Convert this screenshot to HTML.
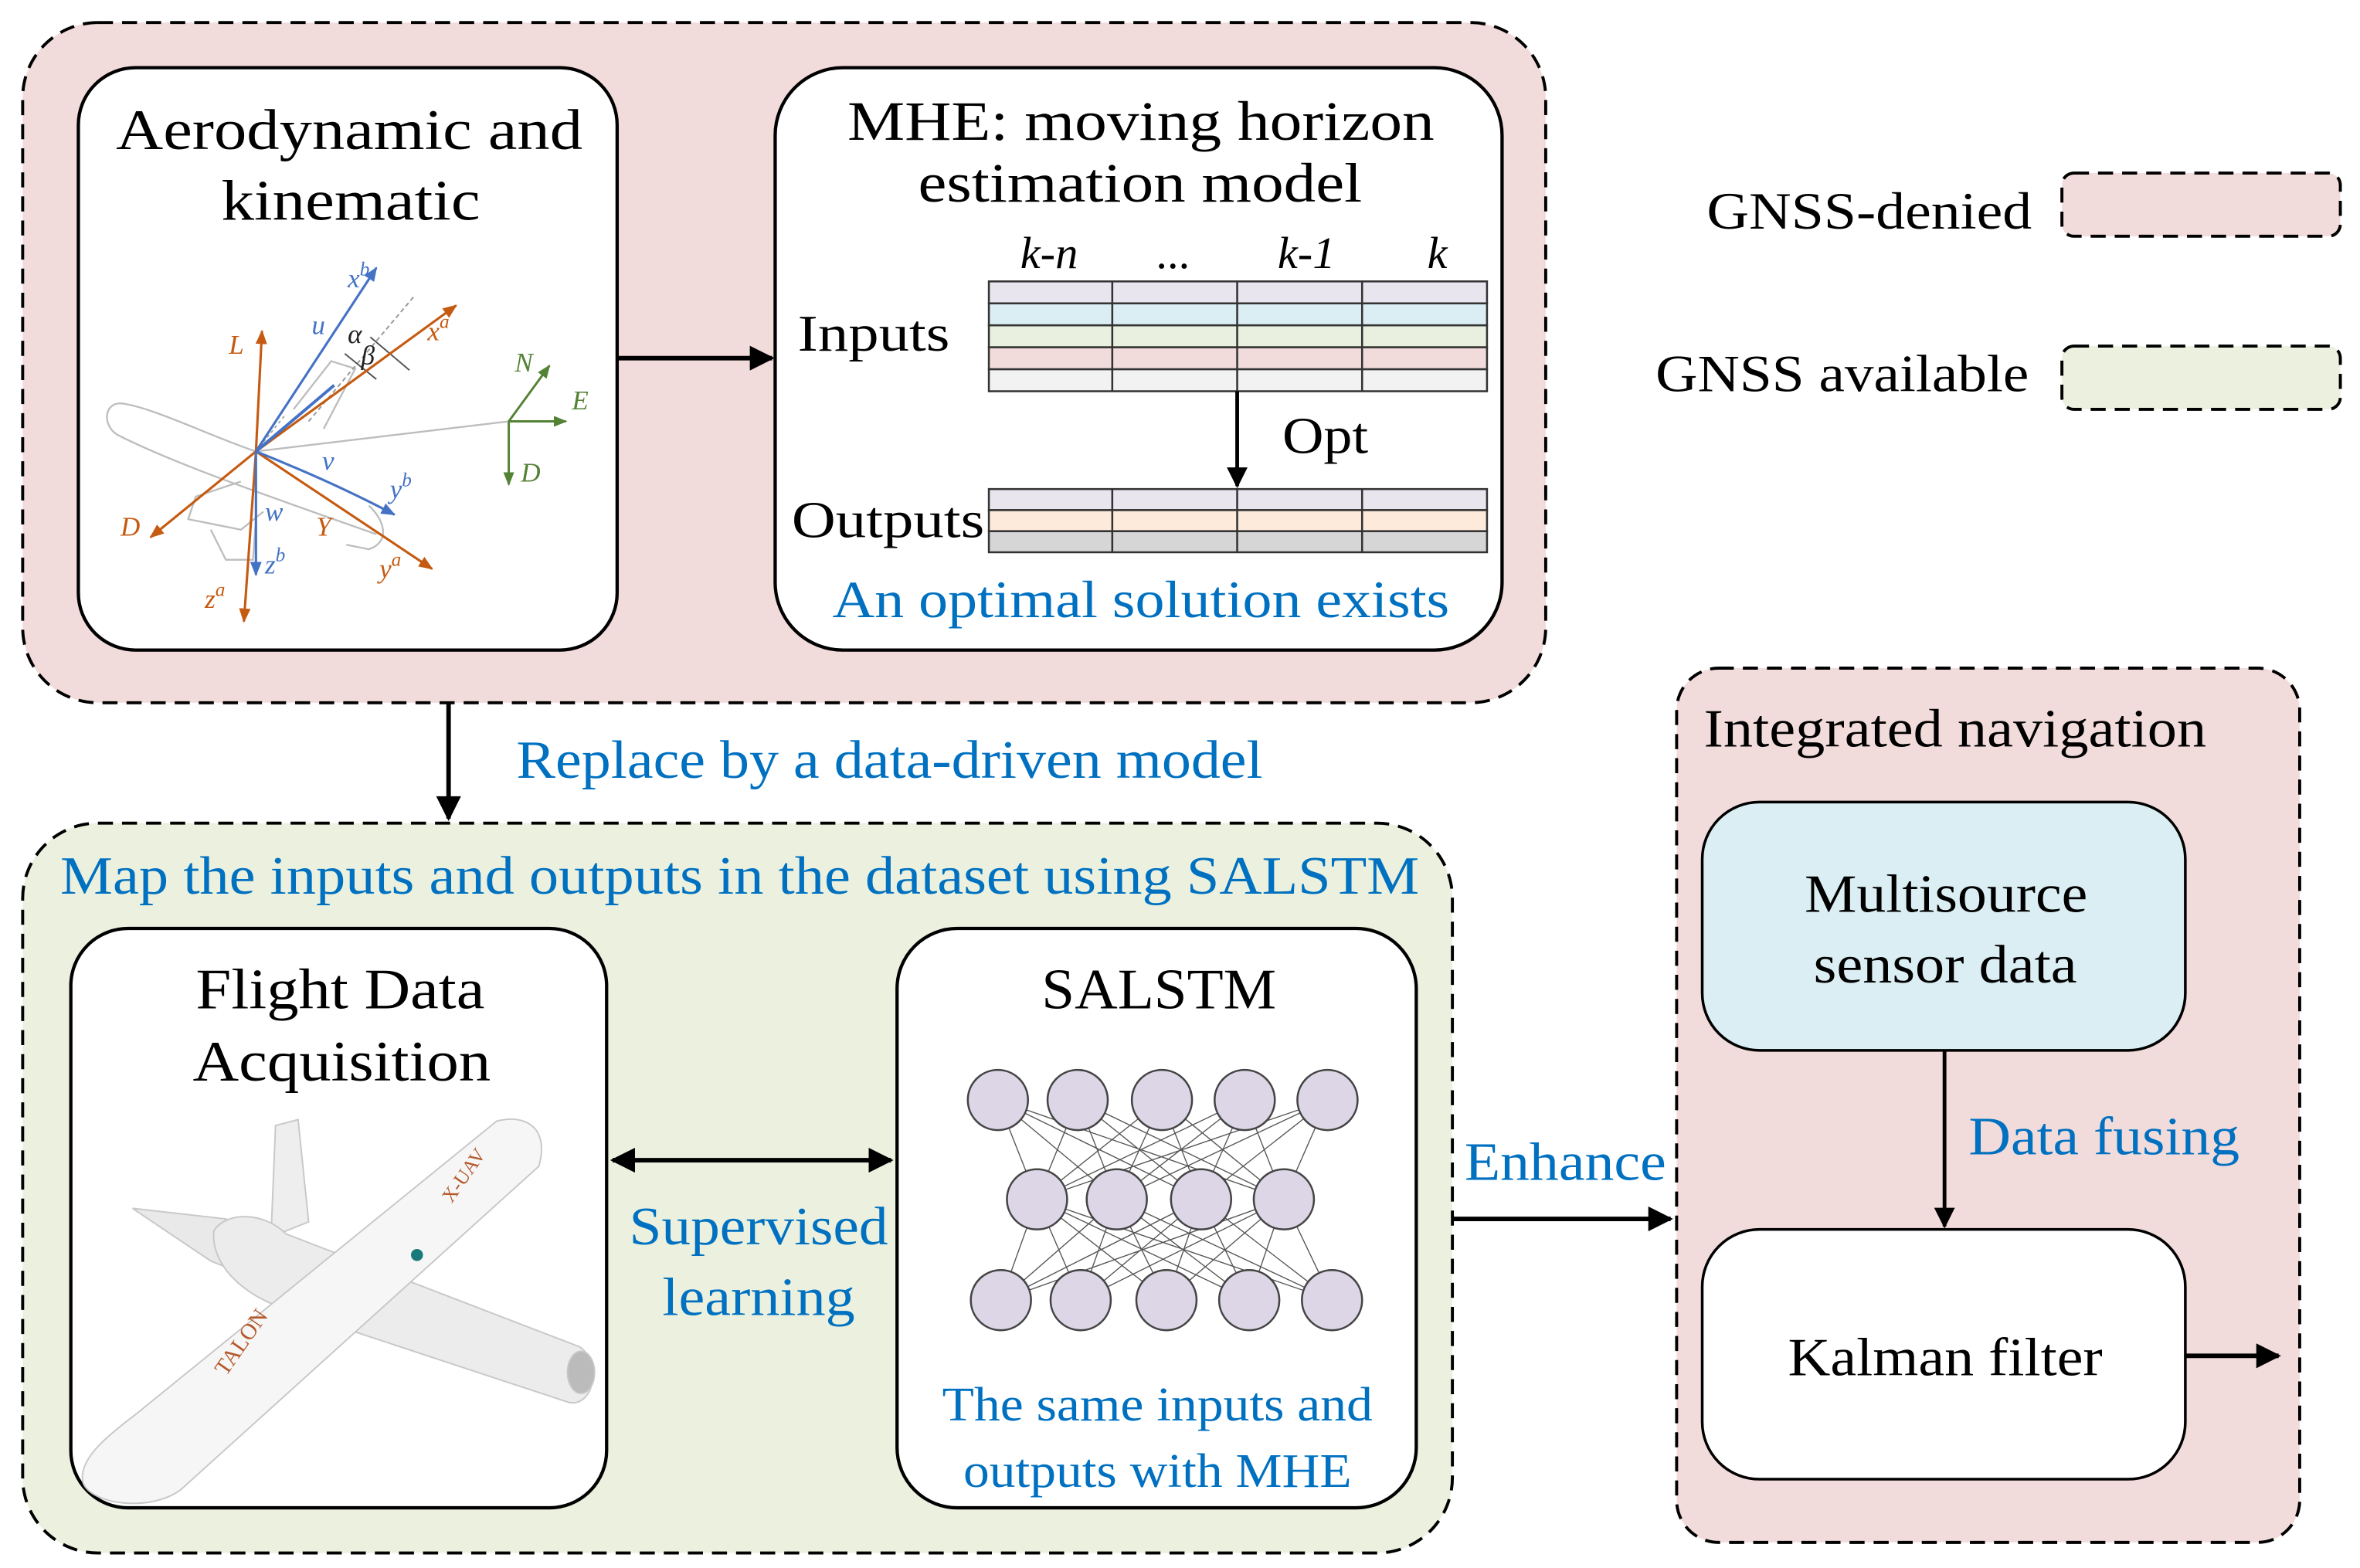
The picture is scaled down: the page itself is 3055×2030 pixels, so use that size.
<!DOCTYPE html>
<html><head><meta charset="utf-8"><style>
html,body{margin:0;padding:0;background:#fff}
svg{display:block}
text{font-family:"Liberation Serif",serif}
</style></head><body>
<svg width="3055" height="2030" viewBox="0 0 1568 1042" xmlns="http://www.w3.org/2000/svg">
<defs>
<marker id="ah" viewBox="0 0 10 10" refX="9" refY="5" markerWidth="6" markerHeight="5.5" orient="auto-start-reverse" markerUnits="strokeWidth"><path d="M0,0 L10,5 L0,10 z" fill="#000"/></marker>
<marker id="ao" viewBox="0 0 10 10" refX="9" refY="5" markerWidth="6" markerHeight="6" orient="auto"><path d="M0,1 L10,5 L0,9 z" fill="#c55a11"/></marker>
<marker id="ab" viewBox="0 0 10 10" refX="9" refY="5" markerWidth="6" markerHeight="6" orient="auto"><path d="M0,1 L10,5 L0,9 z" fill="#4472c4"/></marker>
<marker id="ag" viewBox="0 0 10 10" refX="9" refY="5" markerWidth="6" markerHeight="6" orient="auto"><path d="M0,1 L10,5 L0,9 z" fill="#548235"/></marker>
</defs>

<rect x="15" y="15" width="1012" height="452" rx="50" fill="#f2dcdb" stroke="#000" stroke-width="2" stroke-dasharray="10,6"/>
<rect x="52" y="45" width="358" height="387" rx="38" fill="#fff" stroke="#000" stroke-width="2.2"/>
<rect x="515" y="45" width="483" height="387" rx="45" fill="#fff" stroke="#000" stroke-width="2.2"/>
<text x="77" y="99" font-size="38" textLength="310" lengthAdjust="spacingAndGlyphs">Aerodynamic and</text>
<text x="147" y="146" font-size="38" textLength="172" lengthAdjust="spacingAndGlyphs">kinematic</text>
<text x="563" y="93" font-size="37" textLength="390" lengthAdjust="spacingAndGlyphs">MHE: moving horizon</text>
<text x="610" y="134" font-size="37" textLength="295" lengthAdjust="spacingAndGlyphs">estimation model</text>

<g fill="none" stroke="#bdbdbd" stroke-width="1.2">
<path d="M170,300 C140,290 100,270 80,268 C68,268 68,285 80,290 C110,305 150,320 250,355"/>
<path d="M170,300 L338,280"/>
<path d="M195,272 L220,240 L236,245 L215,285"/>
<path d="M160,320 L130,330 L125,345 L160,352 L175,340 M140,352 L150,372 L168,372 L170,345"/>
<path d="M245,336 C255,345 260,360 245,365 L230,362"/>
</g>
<line x1="170" y1="300" x2="190" y2="275" stroke="#aaa" stroke-dasharray="2,2"/>
<line x1="205" y1="280" x2="275" y2="197" stroke="#999" stroke-dasharray="3,2"/>
<path d="M229,235 L250,252 M246,224 L272,246" stroke="#555" stroke-width="1" fill="none"/>
<g stroke="#c55a11" stroke-width="1.6" fill="none">
<line x1="170" y1="300" x2="174" y2="220" marker-end="url(#ao)"/>
<line x1="170" y1="300" x2="303" y2="203" marker-end="url(#ao)"/>
<line x1="170" y1="300" x2="100" y2="357" marker-end="url(#ao)"/>
<line x1="170" y1="300" x2="287" y2="378" marker-end="url(#ao)"/>
<line x1="170" y1="300" x2="162" y2="413" marker-end="url(#ao)"/>
</g>
<g stroke="#4472c4" stroke-width="1.6" fill="none">
<line x1="170" y1="300" x2="250" y2="178" marker-end="url(#ab)"/>
<line x1="170" y1="300" x2="170" y2="382" marker-end="url(#ab)"/>
<path d="M170,300 C200,312 230,325 262,342" marker-end="url(#ab)"/>
<line x1="170" y1="300" x2="222" y2="256" stroke-width="2"/>
</g>
<g stroke="#548235" stroke-width="1.5" fill="none">
<line x1="338" y1="280" x2="365" y2="243" marker-end="url(#ag)"/>
<line x1="338" y1="280" x2="376" y2="280" marker-end="url(#ag)"/>
<line x1="338" y1="280" x2="338" y2="322" marker-end="url(#ag)"/>
</g>
<g font-style="italic" font-size="18">
<text x="152" y="235" fill="#c55a11">L</text>
<text x="284" y="226" fill="#c55a11">x<tspan font-size="13" dy="-8">a</tspan></text>
<text x="80" y="356" fill="#c55a11">D</text>
<text x="210" y="356" fill="#c55a11">Y</text>
<text x="252" y="384" fill="#c55a11">y<tspan font-size="13" dy="-8">a</tspan></text>
<text x="136" y="404" fill="#c55a11">z<tspan font-size="13" dy="-8">a</tspan></text>
<text x="231" y="191" fill="#4472c4">x<tspan font-size="13" dy="-8">b</tspan></text>
<text x="207" y="222" fill="#4472c4">u</text>
<text x="214" y="312" fill="#4472c4">v</text>
<text x="176" y="346" fill="#4472c4">w</text>
<text x="259" y="331" fill="#4472c4">y<tspan font-size="13" dy="-8">b</tspan></text>
<text x="176" y="381" fill="#4472c4">z<tspan font-size="13" dy="-8">b</tspan></text>
<text x="231" y="228" fill="#222">α</text>
<text x="240" y="242" fill="#222">β</text>
<text x="342" y="247" fill="#548235">N</text>
<text x="380" y="272" fill="#548235">E</text>
<text x="346" y="320" fill="#548235">D</text>
</g>

<line x1="410" y1="238" x2="513" y2="238" stroke="#000" stroke-width="3" marker-end="url(#ah)"/>

<g stroke="#333" stroke-width="1.3">
<rect x="657" y="187" width="331" height="14.6" fill="#e8e5ef"/>
<rect x="657" y="201.6" width="331" height="14.6" fill="#dbeef3"/>
<rect x="657" y="216.2" width="331" height="14.6" fill="#e9f0df"/>
<rect x="657" y="230.8" width="331" height="14.6" fill="#f2dcdb"/>
<rect x="657" y="245.4" width="331" height="14.6" fill="#f2f2f2"/>
<rect x="657" y="325" width="331" height="14" fill="#e8e5ef"/>
<rect x="657" y="339" width="331" height="14" fill="#fdeadb"/>
<rect x="657" y="353" width="331" height="14" fill="#d6d6d6"/>
<path d="M739,187V260M822,187V260M905,187V260M739,325V367M822,325V367M905,325V367" fill="none"/>
</g>
<g font-size="30" font-style="italic">
<text x="697" y="178" text-anchor="middle">k-n</text>
<text x="780" y="178" text-anchor="middle">...</text>
<text x="868" y="178" text-anchor="middle">k-1</text>
<text x="955" y="178" text-anchor="middle">k</text>
</g>
<text x="530" y="233" font-size="34" textLength="101" lengthAdjust="spacingAndGlyphs">Inputs</text>
<text x="526" y="357" font-size="34" textLength="128" lengthAdjust="spacingAndGlyphs">Outputs</text>
<line x1="822" y1="260" x2="822" y2="323" stroke="#000" stroke-width="2.5" marker-end="url(#ah)"/>
<text x="852" y="301" font-size="34" textLength="57" lengthAdjust="spacingAndGlyphs">Opt</text>
<text x="553" y="410" font-size="35" fill="#0070c0" textLength="410" lengthAdjust="spacingAndGlyphs">An optimal solution exists</text>

<text x="1134" y="152" font-size="35" textLength="216" lengthAdjust="spacingAndGlyphs">GNSS-denied</text>
<rect x="1370" y="115" width="185" height="42" rx="8" fill="#f2dcdb" stroke="#000" stroke-width="2" stroke-dasharray="10,6"/>
<text x="1100" y="260" font-size="35" textLength="248" lengthAdjust="spacingAndGlyphs">GNSS available</text>
<rect x="1370" y="230" width="185" height="42" rx="8" fill="#ebf1de" stroke="#000" stroke-width="2" stroke-dasharray="10,6"/>

<line x1="298" y1="467" x2="298" y2="544" stroke="#000" stroke-width="3" marker-end="url(#ah)"/>
<text x="343" y="517" font-size="36" fill="#0070c0" textLength="496" lengthAdjust="spacingAndGlyphs">Replace by a data-driven model</text>

<rect x="15" y="547" width="950" height="485" rx="50" fill="#ebf1de" stroke="#000" stroke-width="2" stroke-dasharray="10,6"/>
<text x="40" y="594" font-size="36" fill="#0070c0" textLength="903" lengthAdjust="spacingAndGlyphs">Map the inputs and outputs in the dataset using SALSTM</text>
<rect x="47" y="617" width="356" height="385" rx="38" fill="#fff" stroke="#000" stroke-width="2.2"/>
<rect x="596" y="617" width="345" height="385" rx="40" fill="#fff" stroke="#000" stroke-width="2.2"/>
<text x="130" y="670" font-size="38" textLength="192" lengthAdjust="spacingAndGlyphs">Flight Data</text>
<text x="128" y="718" font-size="38" textLength="198" lengthAdjust="spacingAndGlyphs">Acquisition</text>
<text x="692" y="670" font-size="38" textLength="156" lengthAdjust="spacingAndGlyphs">SALSTM</text>

<g stroke="#c8c8c8" stroke-width="1">
<path d="M183,748 L198,744 L205,812 L180,822 Z" fill="#eeeeee"/>
<path d="M88,803 L150,810 L195,830 L185,856 L140,838 Z" fill="#e9e9e9"/>
<path d="M142,818 C150,805 175,805 190,820 L385,895 C400,905 395,935 378,932 L190,870 C160,860 140,840 142,818 Z" fill="#ececec"/>
<path d="M330,745 C350,740 365,750 358,775 L120,990 C100,1005 60,1000 55,985 C52,970 70,955 90,940 Z" fill="#f6f6f6"/>
<ellipse cx="386" cy="912" rx="9" ry="14" fill="#bbb"/>
<ellipse cx="277" cy="834" rx="4" ry="4" fill="#1a7a7a" stroke="none"/>
</g>
<text x="300" y="800" font-size="13" fill="#b5582a" transform="rotate(-55 300 800)">X-UAV</text>
<text x="150" y="915" font-size="15" fill="#b5582a" transform="rotate(-55 150 915)">TALON</text>

<g stroke="#555" stroke-width="0.7">
<path d="M663,731L689,797M663,731L742,797M663,731L798,797M663,731L853,797M716,731L689,797M716,731L742,797M716,731L798,797M716,731L853,797M772,731L689,797M772,731L742,797M772,731L798,797M772,731L853,797M827,731L689,797M827,731L742,797M827,731L798,797M827,731L853,797M882,731L689,797M882,731L742,797M882,731L798,797M882,731L853,797"/>
<path d="M689,797L665,864M689,797L718,864M689,797L775,864M689,797L830,864M689,797L885,864M742,797L665,864M742,797L718,864M742,797L775,864M742,797L830,864M742,797L885,864M798,797L665,864M798,797L718,864M798,797L775,864M798,797L830,864M798,797L885,864M853,797L665,864M853,797L718,864M853,797L775,864M853,797L830,864M853,797L885,864"/>
</g>
<g fill="#dcd6e6" stroke="#444" stroke-width="1.3">
<circle cx="663" cy="731" r="20"/><circle cx="716" cy="731" r="20"/><circle cx="772" cy="731" r="20"/><circle cx="827" cy="731" r="20"/><circle cx="882" cy="731" r="20"/>
<circle cx="689" cy="797" r="20"/><circle cx="742" cy="797" r="20"/><circle cx="798" cy="797" r="20"/><circle cx="853" cy="797" r="20"/>
<circle cx="665" cy="864" r="20"/><circle cx="718" cy="864" r="20"/><circle cx="775" cy="864" r="20"/><circle cx="830" cy="864" r="20"/><circle cx="885" cy="864" r="20"/>
</g>
<text x="626" y="944" font-size="32" fill="#0070c0" textLength="286" lengthAdjust="spacingAndGlyphs">The same inputs and</text>
<text x="640" y="988" font-size="32" fill="#0070c0" textLength="258" lengthAdjust="spacingAndGlyphs">outputs with MHE</text>

<line x1="407" y1="771" x2="592" y2="771" stroke="#000" stroke-width="3" marker-start="url(#ah)" marker-end="url(#ah)"/>
<text x="418" y="827" font-size="36" fill="#0070c0" textLength="172" lengthAdjust="spacingAndGlyphs">Supervised</text>
<text x="440" y="874" font-size="36" fill="#0070c0" textLength="128" lengthAdjust="spacingAndGlyphs">learning</text>

<line x1="965" y1="810" x2="1110" y2="810" stroke="#000" stroke-width="3" marker-end="url(#ah)"/>
<text x="973" y="784" font-size="36" fill="#0070c0" textLength="134" lengthAdjust="spacingAndGlyphs">Enhance</text>

<rect x="1114" y="444" width="414" height="581" rx="28" fill="#f2dcdb" stroke="#000" stroke-width="2" stroke-dasharray="10,6"/>
<text x="1132" y="496" font-size="36" textLength="334" lengthAdjust="spacingAndGlyphs">Integrated navigation</text>
<rect x="1131" y="533" width="321" height="165" rx="38" fill="#dbeef3" stroke="#000" stroke-width="1.8"/>
<text x="1199" y="606" font-size="36" textLength="188" lengthAdjust="spacingAndGlyphs">Multisource</text>
<text x="1205" y="653" font-size="36" textLength="175" lengthAdjust="spacingAndGlyphs">sensor data</text>
<line x1="1292" y1="698" x2="1292" y2="815" stroke="#000" stroke-width="2.5" marker-end="url(#ah)"/>
<text x="1308" y="767" font-size="36" fill="#0070c0" textLength="180" lengthAdjust="spacingAndGlyphs">Data fusing</text>
<rect x="1131" y="817" width="321" height="166" rx="38" fill="#fff" stroke="#000" stroke-width="1.8"/>
<text x="1188" y="914" font-size="36" textLength="209" lengthAdjust="spacingAndGlyphs">Kalman filter</text>
<line x1="1452" y1="901" x2="1514" y2="901" stroke="#000" stroke-width="3" marker-end="url(#ah)"/>
</svg>
</body></html>
